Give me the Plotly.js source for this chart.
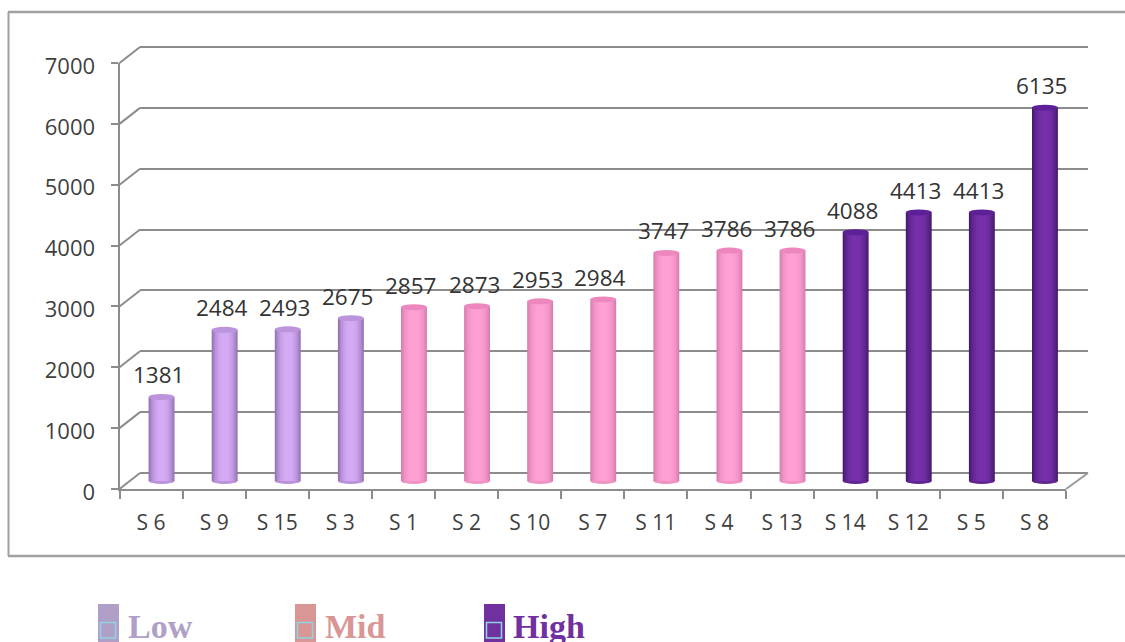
<!DOCTYPE html>
<html>
<head>
<meta charset="utf-8">
<script src="https://cdn.plot.ly/plotly-3.0.1.min.js"></script>
<style>html,body{margin:0;padding:0;background:#fff}#chart{width:1125px;height:642px}</style>
</head>
<body>
<div id="chart"></div>
<script>
// Scores per subject, sorted ascending and grouped into three tiers
const categories = ["S 6","S 9","S 15","S 3","S 1","S 2","S 10","S 7","S 11","S 4","S 13","S 14","S 12","S 5","S 8"];
const values = [1381,2484,2493,2675,2857,2873,2953,2984,3747,3786,3786,4088,4413,4413,6135];
const tiers = ["Low","Low","Low","Low","Mid","Mid","Mid","Mid","Mid","Mid","Mid","High","High","High","High"];
const yTicks = [0,1000,2000,3000,4000,5000,6000,7000];

const W = 1125, H = 642;
const px = x => x / W;
const py = y => 1 - y / H;

// Cylinder shading: edge colour, centre colour and cap colour per tier
const shade = {
  Low:  {edge:[146,110,178], mid:[211,170,243], cap:"#bb94dc"},
  Mid:  {edge:[214,124,172], mid:[255,160,212], cap:"#ec88bd"},
  High: {edge:[68,24,108],   mid:[117,48,170],  cap:"#5e2096"}
};
const legendItems = [
  {name:"Low",  color:"#b0a0c8", swatch:98,  label:128},
  {name:"Mid",  color:"#d99694", swatch:295, label:325},
  {name:"High", color:"#7030a0", swatch:484, label:513}
];

const mix = (a, b, t) => "rgb(" + a.map((v, i) => Math.round(v + (b[i] - v) * t)).join(",") + ")";

// Pixel geometry of the pseudo-3D box
const front = {left:119.5, right:1066, zero:489, top:63};
const back  = {left:140, right:1088, zero:473, top:47};
const pxPerUnit = (front.zero - front.top) / 7000;
const barShift = 10.5, barBase = 481, barPad = 200, gridPad = 100;
const barWidth = 0.41, capHalf = 3 / pxPerUnit;

// Nested bars of shrinking width fake the round shading of each cylinder
const layers = [[1,0],[0.94,0.2],[0.86,0.4],[0.76,0.6],[0.62,0.78],[0.46,0.92],[0.28,1]];
const data = layers.map(([w, t]) => ({
  type:"bar", xaxis:"x3", yaxis:"y3",
  x:categories, y:values, width:barWidth * w,
  marker:{color:tiers.map(k => mix(shade[k].edge, shade[k].mid, t)), line:{width:0}},
  hoverinfo:"x+y", showlegend:false
}));

const shapes = [];
const line = (x0, y0, x1, y1, color, width) => shapes.push({
  type:"line", xref:"paper", yref:"paper",
  x0:px(x0), y0:py(y0), x1:px(x1), y1:py(y1),
  line:{color:color, width:width}
});

// Outer chart frame
line(8.5, 12, 8.5, 556, "#a0a0a0", 2);
line(8, 12, 1125, 12, "#a0a0a0", 2.5);
line(8, 556, 1125, 556, "#a0a0a0", 2.5);

// Side-wall connectors and the floor's right edge
yTicks.forEach(v => line(front.left, front.zero - v * pxPerUnit, back.left, back.zero - v * pxPerUnit, "#8c8c8c", 2));
line(front.right, front.zero, back.right, back.zero, "#9a9a9a", 2);

// Round bottoms and tops of the cylinders
values.forEach((v, i) => {
  const c = shade[tiers[i]];
  shapes.push({type:"circle", layer:"between", xref:"x3", yref:"y3",
    x0:i - barWidth / 2, x1:i + barWidth / 2, y0:-capHalf, y1:capHalf,
    fillcolor:mix(c.edge, c.mid, 0.6), line:{width:0}});
  shapes.push({type:"circle", layer:"above", xref:"x3", yref:"y3",
    x0:i - barWidth / 2, x1:i + barWidth / 2, y0:v - capHalf, y1:v + capHalf,
    fillcolor:c.cap, line:{width:0}});
});

// Value labels above each cylinder
const annotations = values.map((v, i) => ({
  xref:"x3", yref:"y3", x:i, y:v, text:String(v), showarrow:false,
  xshift:-3, yshift:22, xanchor:"center", yanchor:"middle",
  font:{family:"Open Sans, sans-serif", size:22.5, color:"#333333"}
}));

// Tier key below the chart
legendItems.forEach(it => {
  shapes.push({type:"rect", xref:"paper", yref:"paper",
    x0:px(it.swatch), x1:px(it.swatch + 21), y0:py(642), y1:py(604),
    fillcolor:it.color, line:{width:0}});
  shapes.push({type:"rect", xref:"paper", yref:"paper",
    x0:px(it.swatch + 2.5), x1:px(it.swatch + 17.5), y0:py(638), y1:py(622.5),
    fillcolor:"rgba(0,0,0,0)", line:{color:"#8fd3e4", width:1.5}});
  annotations.push({xref:"paper", yref:"paper", x:px(it.label), y:py(626),
    text:"<b>" + it.name + "</b>", showarrow:false, xanchor:"left", yanchor:"middle",
    xshift:-2,
    font:{family:"Liberation Serif, serif", size:34, color:it.color}});
});

const layout = {
  width:W, height:H,
  margin:{l:0, r:0, t:0, b:0},
  paper_bgcolor:"#ffffff", plot_bgcolor:"rgba(0,0,0,0)",
  barmode:"overlay", showlegend:false,
  // Back wall carrying the gridlines; padded so the end lines are kept
  xaxis:{domain:[px(back.left), px(back.right)], range:[0,1], visible:false, anchor:"y"},
  yaxis:{domain:[py(back.zero + gridPad * pxPerUnit), py(back.top - gridPad * pxPerUnit)],
    range:[-gridPad,7000 + gridPad], anchor:"x",
    tickvals:yTicks, showgrid:true, gridcolor:"#8c8c8c", gridwidth:2,
    showticklabels:false, ticks:"", zeroline:false, showline:false},
  // Front plane carrying the visible axes
  xaxis2:{domain:[px(front.left), px(front.right)], anchor:"y2", type:"category",
    categoryorder:"array", categoryarray:categories, range:[-0.5,14.5],
    tickvals:categories, ticktext:categories,
    tickson:"boundaries", ticks:"outside", ticklen:8, tickwidth:2, tickcolor:"#8c8c8c",
    showline:true, linecolor:"#8c8c8c", linewidth:2, showgrid:false, zeroline:false,
    ticklabelstandoff:14, tickangle:0,
    tickfont:{family:"Open Sans, sans-serif", size:21, color:"#3f3f3f"}},
  yaxis2:{domain:[py(front.zero), py(front.top)], range:[0,7000], anchor:"x2",
    tickvals:yTicks, ticks:"outside", ticklen:7, tickwidth:2, tickcolor:"#8c8c8c",
    showline:true, linecolor:"#8c8c8c", linewidth:2, showgrid:false, zeroline:false,
    ticklabelstandoff:11, ticklabelshift:3,
    tickformat:"d",
    tickfont:{family:"Open Sans, sans-serif", size:22, color:"#3f3f3f"}},
  // Cylinders sit slightly behind the front plane
  xaxis3:{domain:[px(front.left + barShift), px(front.right + barShift)], anchor:"y3", type:"category",
    categoryorder:"array", categoryarray:categories, range:[-0.5,14.5], visible:false},
  yaxis3:{domain:[py(barBase + barPad * pxPerUnit), py(barBase - 7000 * pxPerUnit)],
    range:[-barPad,7000], anchor:"x3", visible:false},
  shapes:shapes, annotations:annotations
};

// Invisible traces keep the back wall and the front plane's axes on the page
data.unshift({type:"scatter", mode:"markers", xaxis:"x2", yaxis:"y2", x:categories, y:values,
  marker:{opacity:0}, hoverinfo:"skip", showlegend:false});
data.unshift({type:"scatter", mode:"markers", xaxis:"x", yaxis:"y", x:[0,1], y:[0,7000],
  marker:{opacity:0}, hoverinfo:"skip", showlegend:false});

Plotly.newPlot("chart", data, layout, {displayModeBar:false, responsive:false});
</script>
</body>
</html>
